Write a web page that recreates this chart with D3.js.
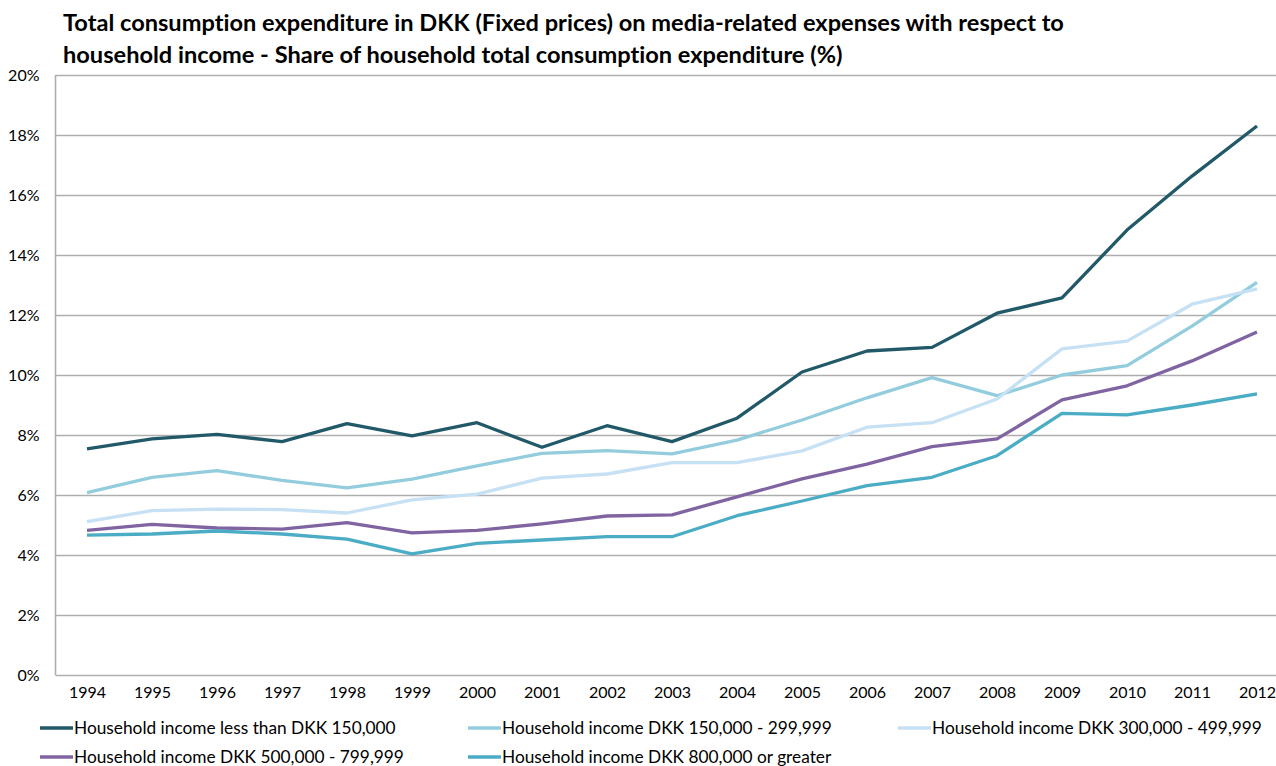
<!DOCTYPE html>
<html>
<head>
<meta charset="utf-8">
<script src="https://cdn.jsdelivr.net/npm/d3@7/dist/d3.min.js"></script>
<style>
  html, body { margin: 0; padding: 0; background: #fff; }
  svg { display: block; font-family: Lato, "Open Sans", sans-serif; font-variant-ligatures: none; }
</style>
</head>
<body>
<svg id="chart" width="1276" height="766"></svg>
<script>
// Years on the x axis
const years = ["1994","1995","1996","1997","1998","1999","2000","2001","2002","2003",
               "2004","2005","2006","2007","2008","2009","2010","2011","2012"];

// Series names (legend order)
const seriesNames = [
  "Household income less than DKK 150,000",
  "Household income DKK 150,000 - 299,999",
  "Household income DKK 300,000 - 499,999",
  "Household income DKK 500,000 - 799,999",
  "Household income DKK 800,000 or greater"
];

// Share of total consumption expenditure (%)
const incomeUnder150k = [7.54, 7.87, 8.02, 7.78, 8.38, 7.97, 8.41, 7.59, 8.31, 7.78,
                         8.56, 10.1, 10.8, 10.92, 12.06, 12.57, 14.83, 16.63, 18.3];
const income150to300k = [6.08, 6.59, 6.81, 6.49, 6.24, 6.53, 6.97, 7.39, 7.48, 7.37,
                         7.83, 8.5, 9.24, 9.91, 9.31, 10.0, 10.31, 11.63, 13.09];
const income300to500k = [5.11, 5.48, 5.53, 5.51, 5.4, 5.84, 6.03, 6.56, 6.7, 7.08,
                         7.08, 7.47, 8.26, 8.41, 9.2, 10.87, 11.13, 12.36, 12.87];
const income500to800k = [4.82, 5.02, 4.9, 4.86, 5.08, 4.74, 4.82, 5.04, 5.3, 5.34,
                         5.94, 6.54, 7.03, 7.61, 7.87, 9.17, 9.64, 10.47, 11.43];
const income800kPlus  = [4.66, 4.7, 4.8, 4.7, 4.53, 4.04, 4.39, 4.5, 4.61, 4.61,
                         5.31, 5.8, 6.31, 6.59, 7.31, 8.72, 8.67, 9.0, 9.37];

// Y axis tick values (%)
const yTicks = [0, 2, 4, 6, 8, 10, 12, 14, 16, 18, 20];

const seriesValues = [incomeUnder150k, income150to300k, income300to500k, income500to800k, income800kPlus];
const colors = ["#215968", "#93CDDD", "#C6E0F4", "#8064A2", "#4BACC6"];

const svg = d3.select("#chart");

const plot = { left: 55.5, right: 1276, top: 75, bottom: 675 };

const x = d3.scalePoint().domain(years).range([87, 1257]);
const y = d3.scaleLinear().domain([0, 20]).range([plot.bottom, plot.top]);

// Title
const title = svg.append("text")
  .attr("font-weight", "bold")
  .attr("font-size", 23.6)
  .attr("fill", "#000");
title.append("tspan").attr("x", 63).attr("y", 31)
  .text("Total consumption expenditure in DKK (Fixed prices) on media-related expenses with respect to");
title.append("tspan").attr("x", 63).attr("y", 63)
  .text("household income - Share of household total consumption expenditure (%)");

// Horizontal gridlines
svg.append("g")
  .selectAll("line")
  .data(yTicks)
  .join("line")
  .attr("x1", plot.left)
  .attr("x2", plot.right)
  .attr("y1", d => Math.round(y(d)) + 0.5)
  .attr("y2", d => Math.round(y(d)) + 0.5)
  .attr("stroke", "#AEAEAE")
  .attr("stroke-width", 1.6);

// Left axis line
svg.append("line")
  .attr("x1", plot.left).attr("x2", plot.left)
  .attr("y1", plot.top).attr("y2", plot.bottom)
  .attr("stroke", "#AEAEAE")
  .attr("stroke-width", 1.6);

// Y axis labels
const yAxis = d3.axisLeft(y).tickValues(yTicks).tickFormat(d => d + "%").tickSize(0).tickPadding(16);
const gy = svg.append("g").attr("transform", `translate(${plot.left},0)`).call(yAxis);
gy.select(".domain").remove();
gy.selectAll("text").attr("font-size", 16).attr("font-family", "Lato, sans-serif").attr("fill", "#000");

// X axis labels
const xAxis = d3.axisBottom(x).tickSize(0).tickPadding(12);
const gx = svg.append("g").attr("transform", `translate(0,${plot.bottom})`).call(xAxis);
gx.select(".domain").remove();
gx.selectAll("text").attr("font-size", 16).attr("font-family", "Lato, sans-serif").attr("fill", "#000");

// Series lines
const line = d3.line()
  .x((d, i) => x(years[i]))
  .y(d => y(d));

svg.append("g")
  .selectAll("path")
  .data(seriesValues)
  .join("path")
  .attr("d", d => line(d))
  .attr("fill", "none")
  .attr("stroke", (d, i) => colors[i])
  .attr("stroke-width", 3.3)
  .attr("stroke-linejoin", "round");

// Legend
const legendPos = [
  { x: 40, y: 728 }, { x: 468, y: 728 }, { x: 898, y: 728 },
  { x: 40, y: 757 }, { x: 468, y: 757 }
];
const legend = svg.append("g")
  .selectAll("g")
  .data(seriesNames)
  .join("g")
  .attr("transform", (d, i) => `translate(${legendPos[i].x},${legendPos[i].y})`);
legend.append("line")
  .attr("x1", 0).attr("x2", 33)
  .attr("y1", 0).attr("y2", 0)
  .attr("stroke", (d, i) => colors[i])
  .attr("stroke-width", 3.3);
legend.append("text")
  .attr("x", 34)
  .attr("y", 0)
  .attr("dy", "0.35em")
  .attr("font-size", 17.3)
  .attr("fill", "#000")
  .text(d => d);
</script>
</body>
</html>
